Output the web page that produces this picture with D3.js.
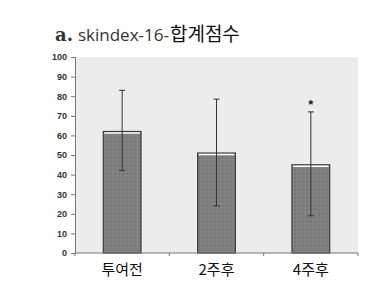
<!DOCTYPE html>
<html>
<head>
<meta charset="utf-8">
<script src="https://cdn.jsdelivr.net/npm/d3@7"></script>
<style>
  body { margin: 0; background: #fff; }
</style>
</head>
<body>
<div id="chart"></div>
<script>
// data
const categories = ['투여전', '2주후', '4주후'];
const means = [62, 51, 45];
const errLow = [42, 24, 19];
const errHigh = [83, 78.5, 72];
const starAt = [null, null, 77];
const yTicks = [0, 10, 20, 30, 40, 50, 60, 70, 80, 90, 100];

const W = 385, H = 281;
const margin = {top: 57, right: 27, bottom: 28, left: 75};
const width = W - margin.left - margin.right;
const height = H - margin.top - margin.bottom;

const svg = d3.select('#chart').append('svg')
  .attr('width', W)
  .attr('height', H);

// title
const title = svg.append('text')
  .attr('x', 55)
  .attr('y', 41);
title.append('tspan')
  .attr('font-family', 'DejaVu Serif, serif')
  .attr('font-weight', 'bold')
  .attr('font-size', 18)
  .attr('fill', '#333')
  .text('a.');
title.append('tspan')
  .attr('dx', 5)
  .attr('font-family', 'Open Sans, sans-serif')
  .attr('font-size', 17)
  .attr('fill', '#333')
  .text('skindex-16-');
title.append('tspan')
  .attr('dx', 1)
  .attr('font-family', 'Noto Sans CJK KR, sans-serif')
  .attr('font-size', 19)
  .attr('fill', '#111')
  .text('합계점수');

// texture pattern for the bars
const defs = svg.append('defs');
const pat = defs.append('pattern')
  .attr('id', 'grain')
  .attr('width', 4).attr('height', 4)
  .attr('patternUnits', 'userSpaceOnUse');
pat.append('rect').attr('width', 4).attr('height', 4).attr('fill', '#808080');
pat.append('rect').attr('x', 0).attr('y', 0).attr('width', 1).attr('height', 1).attr('fill', '#707070');
pat.append('rect').attr('x', 2).attr('y', 2).attr('width', 1).attr('height', 1).attr('fill', '#8c8c8c');
pat.append('rect').attr('x', 3).attr('y', 1).attr('width', 1).attr('height', 1).attr('fill', '#747474');

const g = svg.append('g')
  .attr('transform', 'translate(' + margin.left + ',' + margin.top + ')');

const x = d3.scaleBand().domain(categories).range([0, width]).paddingInner(0.6).paddingOuter(0.3);
const y = d3.scaleLinear().domain([0, 100]).range([height, 0]);

// plot background
g.append('rect')
  .attr('x', 0).attr('y', 0)
  .attr('width', width).attr('height', height)
  .attr('fill', '#ececec');

// bars
g.selectAll('.bar')
  .data(means)
  .enter().append('rect')
  .attr('class', 'bar')
  .attr('x', (d, i) => x(categories[i]))
  .attr('y', d => y(d))
  .attr('width', x.bandwidth())
  .attr('height', d => height - y(d))
  .attr('fill', 'url(#grain)')
  .attr('stroke', '#3c3c3c')
  .attr('stroke-width', 1.2);

// white highlight on bar tops
g.selectAll('.hl')
  .data(means)
  .enter().append('line')
  .attr('x1', (d, i) => x(categories[i]) + 1)
  .attr('x2', (d, i) => x(categories[i]) + x.bandwidth() - 1)
  .attr('y1', d => y(d) + 1.5)
  .attr('y2', d => y(d) + 1.5)
  .attr('stroke', '#fff')
  .attr('stroke-width', 1.5);

// error bars
const cx = i => x(categories[i]) + x.bandwidth() / 2;
const eb = g.selectAll('.err')
  .data(means)
  .enter().append('g')
  .attr('class', 'err')
  .attr('stroke', '#333')
  .attr('stroke-width', 1);
eb.append('line')
  .attr('x1', (d, i) => cx(i)).attr('x2', (d, i) => cx(i))
  .attr('y1', (d, i) => y(errLow[i])).attr('y2', (d, i) => y(errHigh[i]));
eb.append('line')
  .attr('x1', (d, i) => cx(i) - 3).attr('x2', (d, i) => cx(i) + 3)
  .attr('y1', (d, i) => y(errHigh[i])).attr('y2', (d, i) => y(errHigh[i]));
eb.append('line')
  .attr('x1', (d, i) => cx(i) - 3).attr('x2', (d, i) => cx(i) + 3)
  .attr('y1', (d, i) => y(errLow[i])).attr('y2', (d, i) => y(errLow[i]));

// significance star
g.selectAll('.star')
  .data(starAt.map((v, i) => ({v, i})).filter(d => d.v !== null))
  .enter().append('text')
  .attr('x', d => cx(d.i))
  .attr('y', d => y(d.v) + 7)
  .attr('text-anchor', 'middle')
  .attr('font-family', 'Liberation Sans, sans-serif')
  .attr('font-weight', 'bold')
  .attr('font-size', 13)
  .attr('fill', '#222')
  .text('*');

// y axis
const yAxis = g.append('g')
  .call(d3.axisLeft(y).tickValues(yTicks).tickSize(4).tickPadding(4));
yAxis.selectAll('path, line').attr('stroke', '#777');
yAxis.selectAll('text')
  .attr('font-family', 'Liberation Sans, Arial, sans-serif')
  .attr('font-weight', 'bold')
  .attr('font-size', 9)
  .attr('fill', '#333');

// x axis, ticks at category boundaries
const xAxis = g.append('g')
  .attr('transform', 'translate(0,' + height + ')');
xAxis.append('line')
  .attr('x1', 0).attr('x2', width)
  .attr('stroke', '#777');
xAxis.selectAll('.tk')
  .data(d3.range(categories.length + 1))
  .enter().append('line')
  .attr('x1', i => i * width / categories.length)
  .attr('x2', i => i * width / categories.length)
  .attr('y1', 0).attr('y2', 3)
  .attr('stroke', '#777');
xAxis.selectAll('.lbl')
  .data(categories)
  .enter().append('text')
  .attr('x', d => x(d) + x.bandwidth() / 2)
  .attr('y', 22)
  .attr('text-anchor', 'middle')
  .attr('font-family', 'Noto Sans CJK KR, sans-serif')
  .attr('font-size', 15)
  .attr('fill', '#111')
  .text(d => d);
</script>
</body>
</html>
